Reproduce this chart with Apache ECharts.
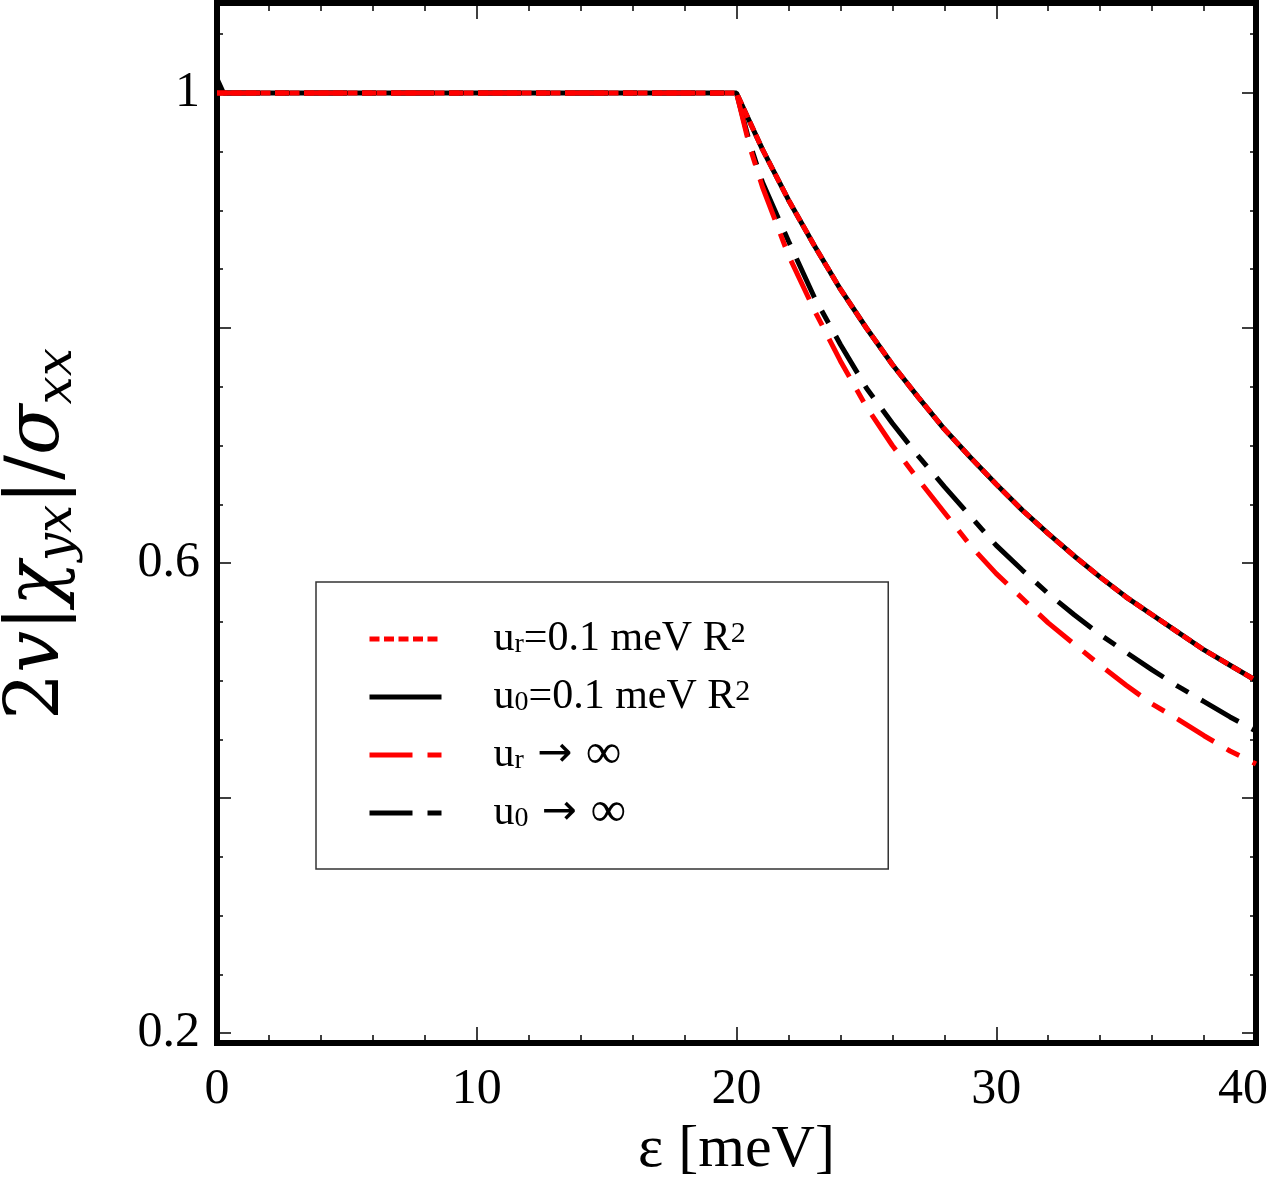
<!DOCTYPE html>
<html>
<head>
<meta charset="utf-8">
<script src="https://cdn.jsdelivr.net/npm/echarts@6.0.0/dist/echarts.min.js"></script>
<style>
  html, body { margin: 0; padding: 0; background: #fff; }
  #main { width: 1273px; height: 1180px; }
</style>
</head>
<body>
<div id="main"></div>
<script>
var eps = [0, 20, 20.5, 21, 22, 23, 24, 25, 26, 27, 28, 29, 30, 31, 32, 33, 34, 35, 36, 37, 38, 39, 40];
var epsU0 = [0, 0.25, 20, 20.5, 21, 22, 23, 24, 25, 26, 27, 28, 29, 30, 31, 32, 33, 34, 35, 36, 37, 38, 39, 40];

// u_r = 0.1 meV R^2 (red, dotted)
var urFinite = [1, 1, 0.976, 0.952, 0.909, 0.870, 0.833, 0.800, 0.769, 0.741, 0.714, 0.690, 0.667,
                0.645, 0.625, 0.606, 0.588, 0.571, 0.556, 0.541, 0.526, 0.513, 0.500];
// u_0 = 0.1 meV R^2 (black, solid)
var u0Finite = [1.012, 1, 1, 0.976, 0.952, 0.909, 0.870, 0.833, 0.800, 0.769, 0.741, 0.714, 0.690, 0.667,
                0.645, 0.625, 0.606, 0.588, 0.571, 0.556, 0.541, 0.526, 0.513, 0.500];
// u_r -> inf (red, dash-dot)
var urInf = [1, 1, 0.955, 0.920, 0.862, 0.815, 0.772, 0.733, 0.700, 0.671, 0.643, 0.615, 0.591,
             0.570, 0.549, 0.531, 0.513, 0.496, 0.480, 0.467, 0.453, 0.440, 0.429];
// u_0 -> inf (black, dash-dot)
var u0Inf = [1, 1, 0.958, 0.924, 0.874, 0.826, 0.786, 0.749, 0.719, 0.691, 0.665, 0.640, 0.615,
             0.594, 0.574, 0.556, 0.539, 0.524, 0.509, 0.495, 0.482, 0.469, 0.457];

var yLabelValues = [0.2, 0.6, 1];

var legendOrder = ['urFinite', 'u0Finite', 'urInf', 'u0Inf'];
// trailing {h| } keeps every legend row the same height
var legendText = {
  urFinite: '{g| }{t|u}{sub|r}{t|=0.1 meV R}{sup|2}{h| }',
  u0Finite: '{g| }{t|u}{sub|0}{t|=0.1 meV R}{sup|2}{h| }',
  urInf: '{g| }{t|u}{sub|r}{m| → }{inf|∞}{h| }',
  u0Inf: '{g| }{t|u}{sub|0}{m| → }{inf|∞}{h| }'
};

function pairs(xs, ys) {
  return xs.map(function (x, i) { return [x, ys[i]]; });
}

var serif = 'Liberation Serif';
var mathFont = 'DejaVu Serif';
var dashDot = [43, 15, 14, 15];

var frameLine = { lineStyle: { color: '#000', width: 6, cap: 'square' }, onZero: false };
var tickStyle = { color: '#000', width: 1.5 };

var chart = echarts.init(document.getElementById('main'));

var option = {
  animation: false,
  backgroundColor: '#fff',
  grid: [
    { left: 217, right: 17, top: 3, bottom: 137, outerBoundsMode: 'none' },
    // tick grid: 0.2 at y=1033, 1.2 above the canvas
    { left: 217, right: 17, top: -142, bottom: 147, outerBoundsMode: 'none' }
  ],
  xAxis: [
    {
      gridIndex: 0, type: 'value', min: 0, max: 40, interval: 10, position: 'bottom',
      axisLine: frameLine,
      axisTick: { inside: true, length: 16, lineStyle: tickStyle },
      minorTick: { show: true, splitNumber: 5, length: 8, lineStyle: tickStyle },
      splitLine: { show: false },
      axisLabel: {
        fontFamily: serif, fontSize: 50, color: '#000', margin: 22,
        formatter: function (v) { return v === 40 ? '{last|40}' : String(v); },
        rich: { last: { fontFamily: serif, fontSize: 50, color: '#000', padding: [0, 26, 0, 0] } }
      },
      name: 'ε [meV]', nameLocation: 'middle', nameGap: 75,
      nameTextStyle: { fontFamily: serif, fontSize: 60, color: '#000' }
    },
    {
      gridIndex: 0, type: 'value', min: 0, max: 40, interval: 10, position: 'top',
      axisLine: frameLine,
      axisTick: { inside: true, length: 16, lineStyle: tickStyle },
      minorTick: { show: true, splitNumber: 5, length: 8, lineStyle: tickStyle },
      splitLine: { show: false },
      axisLabel: { show: false }
    },
    { gridIndex: 1, type: 'value', min: 0, max: 40, show: false }
  ],
  yAxis: [
    {
      gridIndex: 0, type: 'value', min: 0.1915, max: 1.0766, position: 'left',
      axisLine: frameLine, axisTick: { show: false }, axisLabel: { show: false },
      splitLine: { show: false },
      name: '{n|2}{i|v}{n||}{i|χ}{s|yx}{n||}{n|/}{i|σ}{s|xx}',
      nameLocation: 'middle', nameGap: 134,
      nameTextStyle: {
        color: '#000',
        padding: [0, 22, 0, 0],
        rich: {
          n: { fontFamily: mathFont, fontSize: 74, lineHeight: 88, color: '#000' },
          i: { fontFamily: mathFont, fontStyle: 'italic', fontSize: 74, lineHeight: 88, color: '#000' },
          s: { fontFamily: mathFont, fontStyle: 'italic', fontSize: 50, lineHeight: 48, verticalAlign: 'bottom', color: '#000' }
        }
      }
    },
    {
      gridIndex: 0, type: 'value', min: 0.1915, max: 1.0766, position: 'right',
      axisLine: frameLine, axisTick: { show: false }, axisLabel: { show: false },
      splitLine: { show: false }
    },
    {
      gridIndex: 1, type: 'value', min: 0.2, max: 1.2, interval: 0.2, position: 'left',
      axisLine: { show: false, onZero: false },
      axisTick: { inside: true, length: 14, lineStyle: tickStyle },
      minorTick: { show: true, splitNumber: 4, length: 6, lineStyle: tickStyle },
      splitLine: { show: false },
      axisLabel: {
        interval: 0, fontFamily: serif, fontSize: 50, color: '#000', margin: 17,
        formatter: function (v) {
          for (var k = 0; k < yLabelValues.length; k++) {
            if (Math.abs(v - yLabelValues[k]) < 1e-6) return String(yLabelValues[k]);
          }
          return '';
        }
      }
    },
    {
      gridIndex: 1, type: 'value', min: 0.2, max: 1.2, interval: 0.2, position: 'right',
      axisLine: { show: false, onZero: false },
      axisTick: { inside: true, length: 14, lineStyle: tickStyle },
      minorTick: { show: true, splitNumber: 4, length: 6, lineStyle: tickStyle },
      splitLine: { show: false },
      axisLabel: { show: false }
    }
  ],
  legend: {
    data: legendOrder,
    orient: 'vertical',
    left: 316, top: 582,
    padding: [32, 122, 31, 51],
    itemGap: 8,
    itemWidth: 72, itemHeight: 14,
    borderColor: '#333', borderWidth: 1.5,
    lineStyle: { width: 5 },
    itemStyle: { color: 'rgba(0,0,0,0)', borderWidth: 0, opacity: 0 },
    formatter: function (name) { return legendText[name]; },
    textStyle: {
      fontFamily: serif, fontSize: 42, color: '#000', lineHeight: 40,
      rich: {
        g: { width: 47, lineHeight: 40 },
        h: { fontFamily: 'DejaVu Sans', fontSize: 50, lineHeight: 40, color: '#000' },
        t: { fontFamily: serif, fontSize: 42, lineHeight: 40, color: '#000' },
        m: { fontFamily: 'DejaVu Sans', fontSize: 42, lineHeight: 40, color: '#000' },
        inf: { fontFamily: serif, fontSize: 50, lineHeight: 40, color: '#000' },
        sub: { fontFamily: serif, fontSize: 28, lineHeight: 22, verticalAlign: 'bottom', color: '#000' },
        sup: { fontFamily: serif, fontSize: 30, lineHeight: 26, verticalAlign: 'top', color: '#000' }
      }
    }
  },
  series: [
    {
      name: 'u0Finite', type: 'line', xAxisIndex: 0, yAxisIndex: 0, symbol: 'none',
      data: pairs(epsU0, u0Finite),
      itemStyle: { color: '#000' },
      lineStyle: { color: '#000', width: 5, type: 'solid' }
    },
    {
      name: 'u0Inf', type: 'line', xAxisIndex: 0, yAxisIndex: 0, symbol: 'none',
      data: pairs(eps, u0Inf),
      itemStyle: { color: '#000' },
      lineStyle: { color: '#000', width: 5, type: dashDot }
    },
    {
      name: 'urInf', type: 'line', xAxisIndex: 0, yAxisIndex: 0, symbol: 'none',
      data: pairs(eps, urInf),
      itemStyle: { color: '#ff0000' },
      lineStyle: { color: '#ff0000', width: 5, type: dashDot }
    },
    {
      name: 'urFinite', type: 'line', xAxisIndex: 0, yAxisIndex: 0, symbol: 'none',
      data: pairs(eps, urFinite),
      itemStyle: { color: '#ff0000' },
      lineStyle: { color: '#ff0000', width: 5, type: [10, 4.5] }
    }
  ]
};

chart.setOption(option);
</script>
</body>
</html>
